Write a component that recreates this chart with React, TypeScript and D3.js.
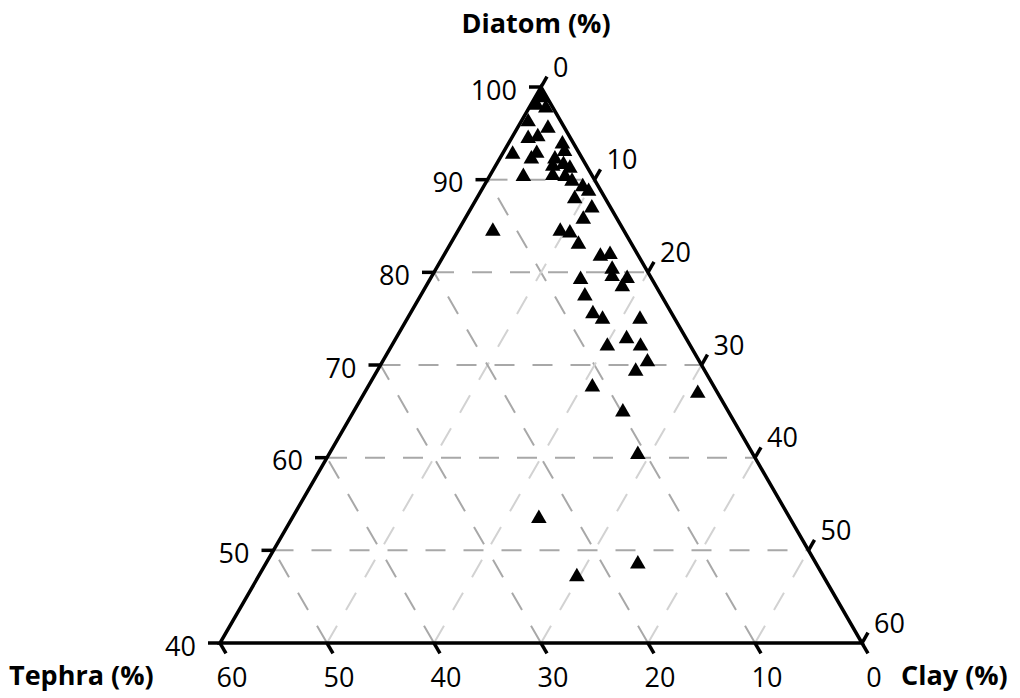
import React from "react";
import * as d3 from "d3";

// Ternary data: Diatom / Tephra / Clay (%)
const diatom = [99.0, 98.2, 97.9, 96.4, 95.7, 94.8, 94.6, 92.9, 92.4, 93.0, 90.5, 94.0, 93.2, 92.4, 91.8, 91.4, 90.6, 90.5, 90.0, 89.4, 88.9, 88.1, 87.1, 85.9, 84.6, 84.4, 83.2, 84.6, 81.9, 82.1, 80.5, 79.7, 79.5, 78.6, 79.4, 77.6, 75.7, 75.1, 75.1, 73.0, 72.2, 72.2, 70.5, 69.5, 67.8, 67.1, 65.1, 60.5, 53.6, 48.7, 47.3, 91.6];
const clay = [0.5, 0.5, 1.5, 0.6, 2.8, 2.3, 1.5, 0.9, 2.9, 3.1, 3.1, 5.0, 5.6, 5.1, 6.2, 7.0, 5.8, 7.0, 7.9, 9.2, 10.0, 9.1, 11.2, 11.0, 9.5, 10.5, 11.9, 3.2, 14.6, 15.4, 16.4, 16.8, 18.3, 18.3, 14.0, 15.3, 17.0, 18.2, 21.7, 21.5, 20.1, 23.2, 24.7, 24.1, 20.9, 31.1, 25.1, 28.8, 23.0, 34.7, 29.7, 5.3];
const tephra = diatom.map((dv, i) => +(100 - dv - clay[i]).toFixed(1));

const diatomTicks = [40, 50, 60, 70, 80, 90, 100];
const tephraTicks = [60, 50, 40, 30, 20, 10, 0];
const clayTicks = [0, 10, 20, 30, 40, 50, 60];
const gridLevels = [10, 20, 30, 40, 50];

const W = 1020;
const H = 698;
const BL = [220, 643];
const BR = [862, 643];
const AP = [541, 643 - (642 * Math.sqrt(3)) / 2];

const dScale = d3.scaleLinear().domain([40, 100]).range([0, 1]);
const cScale = d3.scaleLinear().domain([0, 60]).range([0, 1]);
const tScale = d3.scaleLinear().domain([0, 60]).range([0, 1]);

function pos(d: number, t: number, c: number): [number, number] {
  const a = dScale(d), b = tScale(t), g = cScale(c);
  const s = a + b + g;
  return [
    (a * AP[0] + b * BL[0] + g * BR[0]) / s,
    (a * AP[1] + b * BL[1] + g * BR[1]) / s,
  ];
}

const FONT = "'Open Sans', 'Noto Sans', sans-serif";
const line = d3.line();

export default function App() {
  const tri = d3.symbol().type(d3.symbolTriangle).size(105)();
  const cos60 = 0.5, sin60 = Math.sqrt(3) / 2;
  const tk = 12;

  const grids: { p: [number, number][]; color: string }[] = [];
  gridLevels.forEach((k) => {
    const dv = 40 + k;
    grids.push({ p: [pos(dv, 100 - dv, 0), pos(dv, 0, 100 - dv)], color: "#a8a8a8" });
    grids.push({ p: [pos(40, k, 60 - k), pos(100 - k, k, 0)], color: "#a8a8a8" });
    grids.push({ p: [pos(40, 60 - k, k), pos(100 - k, 0, k)], color: "#d2d2d2" });
  });

  return (
    <svg width={W} height={H} style={{ position: "absolute", left: 0, top: 0, background: "#fff" }} fontFamily={FONT}>
      {grids.map((g, i) => (
        <path key={"g" + i} d={line(g.p) || ""} stroke={g.color} strokeWidth={2} strokeDasharray="20,18" fill="none" />
      ))}
      <path d={(line([AP as [number, number], BL as [number, number], BR as [number, number]]) || "") + "Z"} stroke="#000" strokeWidth={3.5} fill="none" strokeLinejoin="miter" />
      {diatomTicks.map((v) => {
        const [x, y] = pos(v, 100 - v, 0);
        return (
          <g key={"d" + v}>
            <line x1={x} y1={y} x2={x - tk} y2={y} stroke="#000" strokeWidth={3.5} />
            <text x={x - 24} y={y + 2} textAnchor="end" dominantBaseline="central" fontSize={27}>{v}</text>
          </g>
        );
      })}
      {tephraTicks.map((v) => {
        const [x, y] = pos(40, v, 60 - v);
        return (
          <g key={"t" + v}>
            <line x1={x} y1={y} x2={x + tk * cos60} y2={y + tk * sin60} stroke="#000" strokeWidth={3.5} />
            <text x={x + 12} y={y + 33} textAnchor="middle" dominantBaseline="central" fontSize={27}>{v}</text>
          </g>
        );
      })}
      {clayTicks.map((v) => {
        const [x, y] = pos(100 - v, 0, v);
        return (
          <g key={"c" + v}>
            <line x1={x} y1={y} x2={x + tk * cos60} y2={y - tk * sin60} stroke="#000" strokeWidth={3.5} />
            <text x={x + 12} y={y - 21} textAnchor="start" dominantBaseline="central" fontSize={27}>{v}</text>
          </g>
        );
      })}
      {diatom.map((dv, i) => {
        const [x, y] = pos(dv, tephra[i], clay[i]);
        return <path key={"p" + i} d={tri || ""} transform={`translate(${x},${y + 1.5})`} fill="#000" />;
      })}
      <text x={536} y={22} textAnchor="middle" dominantBaseline="central" fontSize={27} fontWeight="bold">Diatom (%)</text>
      <text x={9} y={674} textAnchor="start" dominantBaseline="central" fontSize={27} fontWeight="bold">Tephra (%)</text>
      <text x={901} y={674} textAnchor="start" dominantBaseline="central" fontSize={27} fontWeight="bold">Clay (%)</text>
    </svg>
  );
}
